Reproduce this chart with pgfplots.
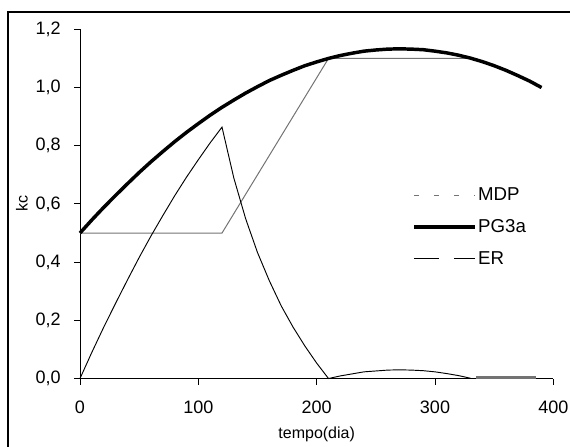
\documentclass[border=0pt]{standalone}
\usepackage{fontspec}
\setmainfont{Liberation Sans}
\usepackage{pgfplots}
\usepackage{pgfplotstable}
\pgfplotsset{compat=1.18}

\pgfplotstableread{
t pg
0 0.500
10 0.545
20 0.588
30 0.629
40 0.669
50 0.708
60 0.745
70 0.780
80 0.814
90 0.846
100 0.876
110 0.905
120 0.932
130 0.957
140 0.981
150 1.003
160 1.024
170 1.042
180 1.059
190 1.075
200 1.088
210 1.100
220 1.110
230 1.118
240 1.125
250 1.129
260 1.132
270 1.133
280 1.132
290 1.130
300 1.125
310 1.119
320 1.111
330 1.101
340 1.089
350 1.075
360 1.059
370 1.041
380 1.022
390 1.000
}\pgtable

\pgfplotstableread{
t mdp
0 0.5
120 0.5
210 1.1
330 1.1
340 1.089
350 1.075
360 1.059
370 1.041
380 1.022
390 1.000
}\mdptable

\pgfplotstableread{
t er
0 0
10 0.09
20 0.176
30 0.258
40 0.338
50 0.416
60 0.49
70 0.56
80 0.628
90 0.692
100 0.752
110 0.81
120 0.864
130 0.689
140 0.549
150 0.433
160 0.336
170 0.25
180 0.177
190 0.112
200 0.053
210 0.0
220 0.009
230 0.016
240 0.023
250 0.026
260 0.029
270 0.03
280 0.029
290 0.027
300 0.023
310 0.017
320 0.01
330 0.001
}\ertable

\pgfplotstableread{
t er
335 0.004
385 0.004
}\ertailtable

\begin{document}
\begin{tikzpicture}
\path[use as bounding box] (-60pt,-50.6pt) rectangle (367.5pt,283.9pt);
\draw[line width=1.5pt] (-54pt,-52pt) -- (-54pt,274.9pt) -- (369pt,274.9pt);
\begin{axis}[
  at={(0pt,0pt)}, anchor=south west,
  scale only axis, width=355pt, height=261.9pt,
  xmin=0, xmax=400, ymin=0, ymax=1.2,
  axis x line*=bottom, axis y line*=left,
  axis line style={black, line width=0.75pt, -},
  xtick={0,100,200,300,400},
  ytick={0,0.2,0.4,0.6,0.8,1.0,1.2},
  tick align=outside, major tick length=4.5pt,
  tick style={black, line width=0.75pt},
  ticklabel style={font=\fontsize{13.5}{15}\selectfont},
  /pgf/number format/assume math mode=true,
  yticklabel style={xshift=-6.5pt, /pgf/number format/.cd, fixed, fixed zerofill, precision=1, use comma},
  xticklabel style={yshift=-9pt},
  xlabel={tempo(dia)}, ylabel={kc},
  xlabel style={font=\fontsize{12}{14}\selectfont, at={(axis description cs:0.5,0)}, anchor=base, yshift=-44.6pt},
  ylabel style={font=\fontsize{12}{14}\selectfont, at={(axis description cs:0,0.5)}, anchor=center, yshift=43.5pt},
  clip=false,
  legend style={draw=none, fill=none, at={(axis cs:277.5,0.372)}, anchor=south west,
    font=\fontsize{14}{16}\selectfont, row sep=10.5pt,
    nodes={inner sep=1pt}},
  legend cell align=left,
]
\addplot[black!55, line width=0.75pt,
  legend image code/.code={\draw[black!55, line width=0.9pt, dash pattern=on 3.75pt off 11.25pt] (0pt,0pt) -- (45.75pt,0pt);}]
  table[x=t,y=mdp] {\mdptable};
\addlegendentry{MDP}
\addplot[black, line width=2.6pt,
  legend image code/.code={\draw[black, line width=2.4pt] (0pt,0pt) -- (45.75pt,0pt);}]
  table[x=t,y=pg] {\pgtable};
\addlegendentry{PG3a}
\addplot[black, line width=0.7pt,
  legend image code/.code={\draw[black, line width=0.9pt, dash pattern=on 18.75pt off 11.25pt] (0pt,0pt) -- (45.75pt,0pt);}]
  table[x=t,y=er] {\ertable};
\addlegendentry{ER}
\addplot[black!55, line width=1.8pt, forget plot] table[x=t,y=er] {\ertailtable};
\end{axis}
\end{tikzpicture}
\end{document}
